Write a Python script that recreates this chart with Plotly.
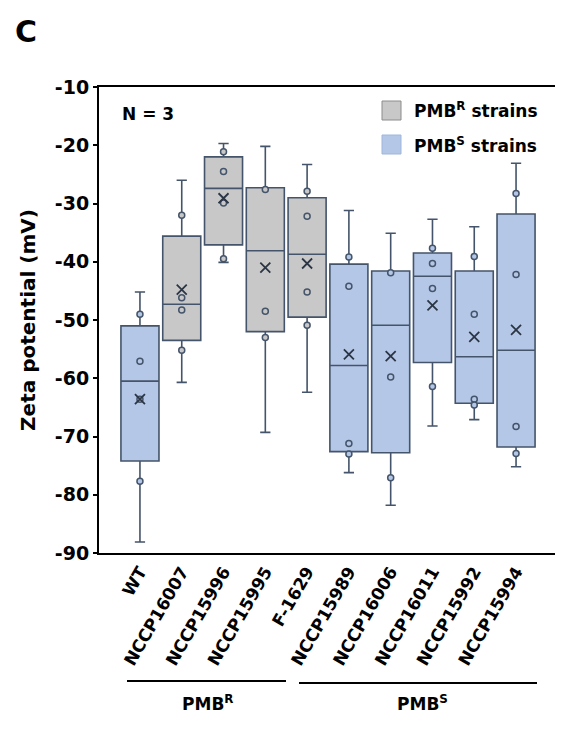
import plotly.graph_objects as go

# ---------------- data ----------------
categories = ["WT", "NCCP16007", "NCCP15996", "NCCP15995", "F-1629",
              "NCCP15989", "NCCP16006", "NCCP16011", "NCCP15992", "NCCP15994"]
group = ["S", "R", "R", "R", "R", "S", "S", "S", "S", "S"]  # box colour group

q1 = [-74.2, -53.5, -37.1, -52.0, -49.5, -72.6, -72.8, -57.3, -64.3, -71.8]
median = [-60.5, -47.3, -27.4, -38.1, -38.7, -57.8, -50.9, -42.5, -56.3, -55.2]
q3 = [-51.0, -35.6, -22.0, -27.3, -29.0, -40.4, -41.6, -38.5, -41.6, -31.8]
lower_whisker = [-88.1, -60.7, -40.1, -69.3, -62.4, -76.2, -81.8, -68.2, -67.1, -75.2]
upper_whisker = [-45.2, -26.0, -19.7, -20.2, -23.3, -31.2, -35.1, -32.7, -34.0, -23.1]
mean = [-63.6, -44.8, -29.1, -41.0, -40.3, -55.9, -56.2, -47.5, -52.9, -51.7]

points = [
    [-49.0, -57.1, -63.6, -77.7],
    [-32.0, -46.2, -48.3, -55.2],
    [-21.1, -24.5, -29.9, -39.5],
    [-27.6, -48.5, -53.0],
    [-27.9, -32.2, -45.2, -50.9],
    [-39.2, -44.2, -71.2, -73.0],
    [-41.9, -59.8, -77.1],
    [-37.7, -40.3, -44.6, -61.4],
    [-39.1, -49.0, -63.6, -64.6],
    [-28.3, -42.2, -68.3, -72.9],
]

y_ticks = [-90, -80, -70, -60, -50, -40, -30, -20, -10]
y_tick_labels = ["-90", "-80", "-70", "-60", "-50", "-40", "-30", "-20", "-10"]

# ---------------- styles ----------------
FONT = "DejaVu Sans"
fill = {"R": "#c8c8c8", "S": "#b4c7e7"}
edge = "#44546a"

fig = go.Figure()

for g in ["R", "S"]:
    idx = [i for i, gg in enumerate(group) if gg == g]
    fig.add_trace(go.Box(
        x=[categories[i] for i in idx],
        q1=[q1[i] for i in idx],
        median=[median[i] for i in idx],
        q3=[q3[i] for i in idx],
        lowerfence=[lower_whisker[i] for i in idx],
        upperfence=[upper_whisker[i] for i in idx],
        boxpoints=False,
        width=0.91,
        whiskerwidth=0.27,
        fillcolor=fill[g],
        line=dict(color=edge, width=1.6),
        showlegend=False,
        hoverinfo="skip",
    ))

# individual points
px, py, pc = [], [], []
for i, vals in enumerate(points):
    for v in vals:
        px.append(categories[i])
        py.append(v)
        pc.append(fill[group[i]])
fig.add_trace(go.Scatter(
    x=px, y=py, mode="markers",
    marker=dict(symbol="circle", size=6, color=pc, line=dict(color=edge, width=1.5)),
    showlegend=False, hoverinfo="skip",
))

# means
fig.add_trace(go.Scatter(
    x=categories, y=mean, mode="markers",
    marker=dict(symbol="x-thin", size=10, line=dict(color="#2b3544", width=1.8)),
    showlegend=False, hoverinfo="skip",
))

# page has an 8px body margin: convert screen positions to figure positions
OFF = 8
W, H = 563, 732
plot_left, plot_right, plot_top, plot_bottom = 99 - OFF, 557 - OFF, 87 - OFF, 553 - OFF
L, R, T, B = plot_left, W - plot_right, plot_top, H - plot_bottom
pw, ph = plot_right - plot_left, plot_bottom - plot_top

def px2x(x):
    return (x - OFF - plot_left) / pw

def px2y(y):
    return (plot_bottom - (y - OFF)) / ph

shapes = []
annotations = []

# custom legend
legend_items = [("R", "PMB<sup>R</sup> strains", 101, 120), ("S", "PMB<sup>S</sup> strains", 135, 154)]
for g, label, y0, y1 in legend_items:
    shapes.append(dict(type="rect", xref="paper", yref="paper",
                       x0=px2x(382), x1=px2x(401), y0=px2y(y1), y1=px2y(y0),
                       fillcolor=fill[g],
                       line=dict(color="#8c8c8c" if g == "R" else "#9fb6dd", width=1)))
    annotations.append(dict(xref="paper", yref="paper", x=px2x(412), y=px2y((y0 + y1) / 2),
                            text="<b>" + label + "</b>", showarrow=False,
                            xanchor="left", yanchor="middle",
                            font=dict(family=FONT, size=17, color="black")))

annotations.append(dict(xref="paper", yref="paper", x=px2x(120), y=px2y(114),
                        text="<b>N = 3</b>", showarrow=False, xanchor="left", yanchor="middle",
                        font=dict(family=FONT, size=17, color="black")))

annotations.append(dict(xref="paper", yref="paper", x=px2x(26), y=px2y(31),
                        text="<b>C</b>", showarrow=False, xanchor="center", yanchor="middle",
                        font=dict(family=FONT, size=30, color="black")))

# group brackets under the tick labels
shapes.append(dict(type="line", xref="paper", yref="paper",
                   x0=px2x(127), x1=px2x(286), y0=px2y(681), y1=px2y(681),
                   line=dict(color="black", width=2)))
shapes.append(dict(type="line", xref="paper", yref="paper",
                   x0=px2x(299), x1=px2x(537), y0=px2y(683), y1=px2y(683),
                   line=dict(color="black", width=2)))
annotations.append(dict(xref="paper", yref="paper", x=px2x(208), y=px2y(703),
                        text="<b>PMB<sup>R</sup></b>", showarrow=False,
                        xanchor="center", yanchor="middle",
                        font=dict(family=FONT, size=17, color="black")))
annotations.append(dict(xref="paper", yref="paper", x=px2x(422), y=px2y(703),
                        text="<b>PMB<sup>S</sup></b>", showarrow=False,
                        xanchor="center", yanchor="middle",
                        font=dict(family=FONT, size=17, color="black")))

fig.update_layout(
    width=W, height=H,
    margin=dict(l=L, r=R, t=T, b=B, autoexpand=False),
    paper_bgcolor="white", plot_bgcolor="white",
    boxmode="overlay",
    shapes=shapes, annotations=annotations,
    font=dict(family=FONT, color="black"),
)
fig.update_xaxes(
    type="category", categoryorder="array", categoryarray=categories,
    range=[-0.98, 9.98], automargin=False,
    showline=True, linecolor="black", linewidth=2, mirror=True,
    ticks="", showgrid=False, zeroline=False,
    tickangle=-60,
    tickfont=dict(family=FONT, size=17, color="black", weight="bold"),
)
fig.update_yaxes(
    range=[-90, -10], tickvals=y_ticks, ticktext=y_tick_labels, automargin=False,
    showline=True, linecolor="black", linewidth=2, mirror=True,
    ticks="outside", ticklen=4, tickcolor="black", tickwidth=1.5,
    showgrid=False, zeroline=False,
    tickfont=dict(family=FONT, size=19, color="black", weight="bold"),
    title=dict(text="<b>Zeta potential (mV)</b>", standoff=14,
               font=dict(family=FONT, size=20, color="black")),
)

fig.write_html("out.html")
